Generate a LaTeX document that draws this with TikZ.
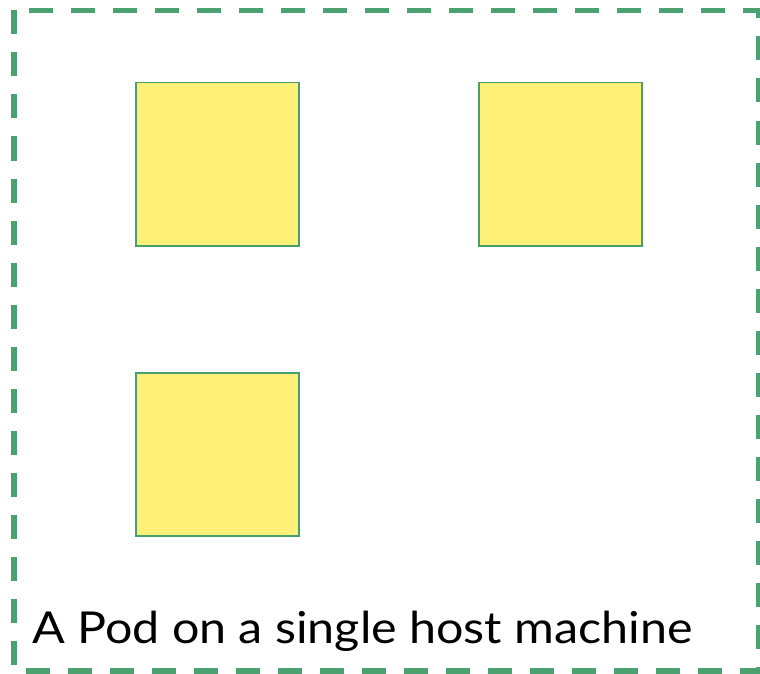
\documentclass[tikz,border=0pt]{standalone}
\usepackage{fontspec}
\setmainfont[FakeStretch=1.1]{Lato}
\definecolor{hostgreen}{RGB}{76,161,113}
\definecolor{boxgreen}{RGB}{70,160,110}
\definecolor{boxyellow}{RGB}{255,240,120}
\begin{document}
\begin{tikzpicture}[x=1pt,y=-1pt,
  container/.style={draw=boxgreen,line width=1.5pt,fill=boxyellow,minimum width=163pt,minimum height=163pt,inner sep=0pt,anchor=north west},
  host/.style={draw=hostgreen,line width=5.5pt,dash pattern=on 24pt off 18pt}]
\useasboundingbox (0,0) rectangle (760,674);
\draw[host] (14,10.5) rectangle (759,671);
\node[container] (c1) at (135,82) {};
\node[container] (c2) at (478,82) {};
\node[container] (c3) at (135,372) {};
\node[anchor=base west,inner sep=0pt,font=\fontsize{44}{50}\selectfont] (label) at (32,643) {A Pod on a single host machine};
\end{tikzpicture}
\end{document}
